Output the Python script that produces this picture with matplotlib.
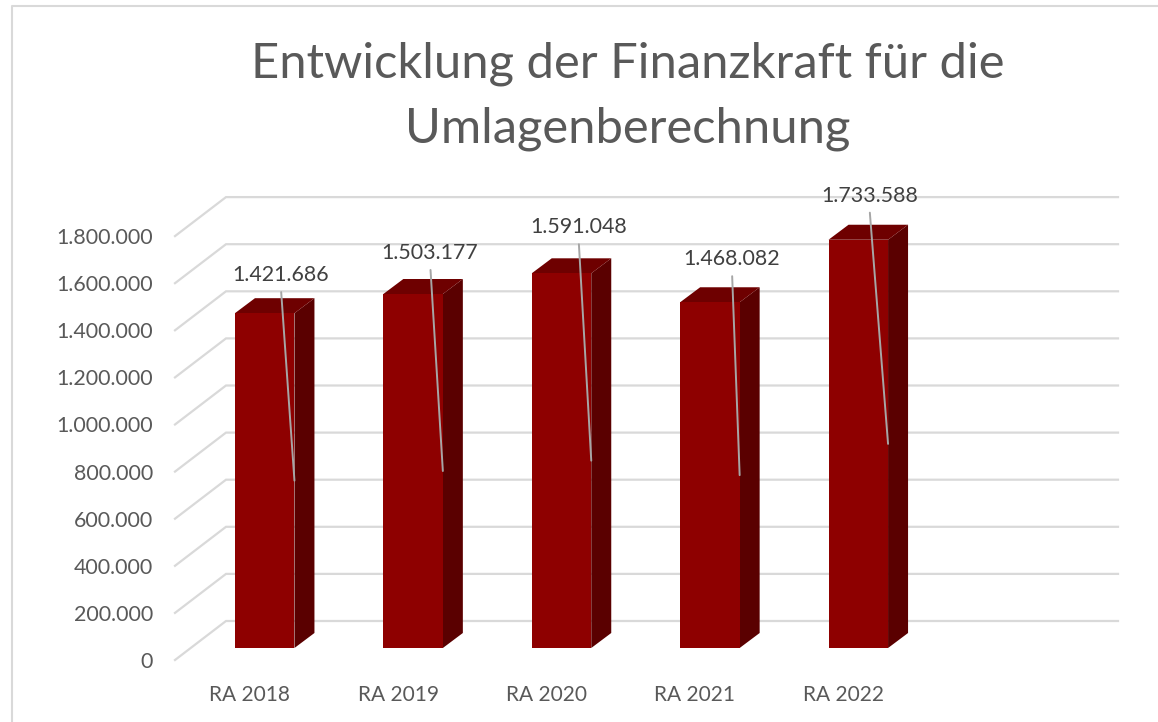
import matplotlib
matplotlib.use("Agg")
import matplotlib.pyplot as plt
from matplotlib.lines import Line2D

# data
categories = ["RA 2018", "RA 2019", "RA 2020", "RA 2021", "RA 2022"]
values = [1421686, 1503177, 1591048, 1468082, 1733588]
value_labels = ["1.421.686", "1.503.177", "1.591.048", "1.468.082", "1.733.588"]
y_ticks = [0, 200000, 400000, 600000, 800000, 1000000, 1200000, 1400000, 1600000, 1800000]
y_tick_labels = ["0", "200.000", "400.000", "600.000", "800.000", "1.000.000",
                 "1.200.000", "1.400.000", "1.600.000", "1.800.000"]
title = "Entwicklung der Finanzkraft für die\nUmlagenberechnung"

# layout, in pixels of the 1158x722 picture
W, H = 1158, 722
left, right, floor, top = 175, 1118, 660, 185
cat_step = 148.4
first_bar = 264.7
grid_step = 47.1
bar_w = 59.5
depth_x, depth_y = 20, 15
wall_x, wall_y = 51, 39
bar_lift = 12
# label offset from the bar's front top centre (px)
label_dx = [16, 17, 17, 22, 11]
label_dy = [38, 41, 46, 43, 44]

plt.rcParams["font.family"] = ["Lato", "DejaVu Sans"]

fig = plt.figure(figsize=(W / 100, H / 100), dpi=100)
ax = fig.add_axes([left / W, 1 - floor / H, (right - left) / W, (floor - top) / H])

ux = 1 / cat_step
uy = 200000 / grid_step
ax.set_xlim((left - first_bar) * ux, (right - first_bar) * ux)
ax.set_ylim(0, (floor - top) * uy)

grid_color = "#D9D9D9"
for v in y_ticks:
    # floor-to-wall diagonal then back wall line
    ax.plot([ax.get_xlim()[0], ax.get_xlim()[0] + wall_x * ux, ax.get_xlim()[1]],
            [v, v + wall_y * uy, v + wall_y * uy],
            color=grid_color, lw=1.6, zorder=1, solid_joinstyle="miter", clip_on=False)

x_pos = list(range(len(categories)))
hw = bar_w * ux / 2
dx = depth_x * ux
dy = depth_y * uy
base = bar_lift * uy

ax.bar(x_pos, values, width=bar_w * ux, bottom=base, color="#8E0000", zorder=3)
for x, v in zip(x_pos, values):
    t = base + v
    ax.fill([x + hw, x + hw + dx, x + hw + dx, x + hw],
            [base, base + dy, t + dy, t], color="#5A0000", lw=0, zorder=2.5)
    ax.fill([x - hw, x - hw + dx, x + hw + dx, x + hw],
            [t, t + dy, t + dy, t], color="#6E0000", lw=0, zorder=2.5)

for x, v, lab, ldx, ldy in zip(x_pos, values, value_labels, label_dx, label_dy):
    # leader runs to the middle of the bar's right edge
    ax.annotate(lab, xy=(x + hw, base + v / 2), xycoords="data",
                xytext=(x + ldx * ux, base + v + ldy * uy), textcoords="data",
                ha="center", va="center", fontsize=15.4, color="#404040", zorder=5,
                arrowprops=dict(arrowstyle="-", color="#A6A6A6", lw=1.4,
                                shrinkA=3, shrinkB=0, relpos=(0.5, 0)))

ax.set_yticks(y_ticks, y_tick_labels)
ax.set_xticks([x - 15 * ux for x in x_pos], categories)
ax.tick_params(axis="y", length=0, pad=16, labelsize=15.4, labelcolor="#595959")
ax.tick_params(axis="x", length=0, pad=18, labelsize=15, labelcolor="#595959")
for s in ax.spines.values():
    s.set_visible(False)
ax.patch.set_alpha(0)

fig.text(628 / W, 1 - 96.5 / H, title, ha="center", va="center", fontsize=35.2,
         color="#595959", linespacing=1.58)

# chart frame, only top and left are inside the crop
fig.add_artist(Line2D([12 / W, 12 / W, 1], [0, 1 - 6 / H, 1 - 6 / H],
                      color=grid_color, lw=1.5, transform=fig.transFigure))

fig.savefig("out.png", dpi=100)
